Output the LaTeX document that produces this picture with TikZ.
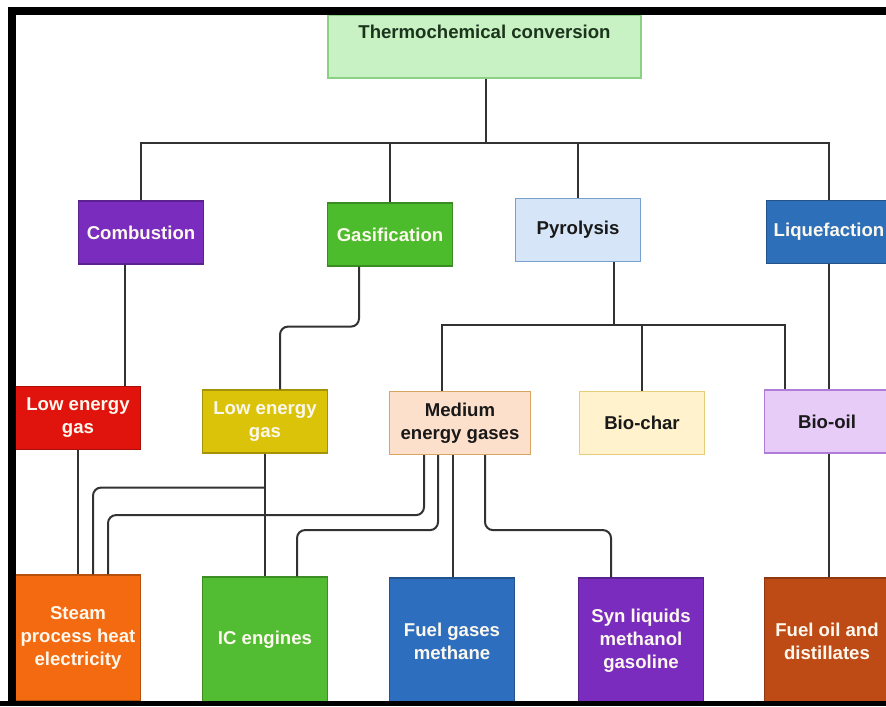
\documentclass[tikz,border=0pt]{standalone}
\usepackage{fontspec}
\setmainfont{Liberation Sans}
\usepackage{xcolor}
\definecolor{thermofill}{RGB}{200,242,196}
\definecolor{thermoline}{RGB}{140,208,132}
\definecolor{thermotext}{RGB}{28,52,28}
\definecolor{combpurple}{RGB}{122,44,190}
\definecolor{gasgreen}{RGB}{76,187,44}
\definecolor{pyrofill}{RGB}{214,230,248}
\definecolor{pyroline}{RGB}{120,160,205}
\definecolor{liqblue}{RGB}{46,111,186}
\definecolor{lowred}{RGB}{224,20,12}
\definecolor{lowyellow}{RGB}{219,195,10}
\definecolor{mediumfill}{RGB}{253,224,204}
\definecolor{mediumline}{RGB}{215,165,95}
\definecolor{charfill}{RGB}{255,242,204}
\definecolor{charline}{RGB}{232,205,120}
\definecolor{oilfill}{RGB}{230,204,246}
\definecolor{oilline}{RGB}{175,125,215}
\definecolor{steamorange}{RGB}{244,106,16}
\definecolor{icgreen}{RGB}{82,188,50}
\definecolor{fuelblue}{RGB}{45,111,190}
\definecolor{synpurple}{RGB}{122,44,190}
\definecolor{oilbrown}{RGB}{190,74,22}
\definecolor{lighttext}{RGB}{252,248,238}
\definecolor{darktext}{RGB}{25,25,25}
\definecolor{linegray}{RGB}{50,50,50}

\begin{document}
\begin{tikzpicture}[x=0.5pt, y=-0.5pt,
    box/.style={rectangle, draw, line width=0.6pt, align=center, font=\fontsize{9.3}{11.5}\selectfont\bfseries, minimum width=62.5pt, minimum height=31.5pt, inner sep=2pt},
    dark/.style={box, fill=#1, draw=#1!75!black, text=lighttext},
    pale/.style 2 args={box, fill=#1, draw=#2, text=darktext},
    tall/.style={minimum height=63pt},
    link/.style={line width=1pt, draw=linegray},
    curve/.style={link, rounded corners=4pt}
]
\clip (0,0) rectangle (886,706);
\fill[white] (0,0) rectangle (886,706);

\node[pale={thermofill}{thermoline}, text=thermotext, minimum width=156.5pt, text height=9pt, text depth=16.5pt, inner ysep=3pt] (thermo) at (484.5,46.5) {Thermochemical conversion};

\node[dark=combpurple] (comb) at (141,232.5) {Combustion};
\node[dark=gasgreen] (gasif) at (390,234.5) {Gasification};
\node[pale={pyrofill}{pyroline}] (pyro) at (578,230) {Pyrolysis};
\node[dark=liqblue] (lique) at (829,232) {Liquefaction};

\node[dark=lowred] (redgas) at (78,418) {Low energy\\gas};
\node[dark=lowyellow] (yelgas) at (265,421.5) {Low energy\\gas};
\node[pale={mediumfill}{mediumline}, minimum width=70.5pt] (medium) at (460,423) {Medium\\energy gases};
\node[pale={charfill}{charline}] (biochar) at (642,423) {Bio-char};
\node[pale={oilfill}{oilline}] (biooil) at (827,421.5) {Bio-oil};

\node[dark=steamorange, tall] (steam) at (78,638) {Steam\\process heat\\electricity};
\node[dark=icgreen, tall] (icen) at (265,640) {IC engines};
\node[dark=fuelblue, tall] (fuelgas) at (452,641) {Fuel gases\\methane};
\node[dark=synpurple, tall] (synliq) at (641,641) {Syn liquids\\methanol\\gasoline};
\node[dark=oilbrown, tall] (fueloil) at (827,641) {Fuel oil and\\distillates};

% tree from the top box
\coordinate (bus) at (486,143);
\draw[link] (thermo.south -| bus) -- (bus);
\draw[link] (comb.north) |- (bus) -| (lique.north);
\draw[link] (gasif.north) -- (gasif.north |- bus);
\draw[link] (pyro.north) -- (pyro.north |- bus);

% second row to third row
\draw[link] ([xshift=-8pt]comb.south) -- ([xshift=-8pt]comb.south |- redgas.north);
\draw[curve] ([xshift=-15.5pt]gasif.south) -- ++(0,60) -| ([xshift=7.5pt]yelgas.north);
\coordinate (pyrobus) at (614,325);
\draw[link] ([xshift=18pt]pyro.south) -- (pyrobus);
\draw[link] ([xshift=-9pt]medium.north) |- (pyrobus) -| ([xshift=-21pt]biooil.north);
\draw[link] (biochar.north) -- (biochar.north |- pyrobus);
\draw[link] (lique.south) -- (lique.south |- biooil.north);

% third row to products
\draw[link] (redgas) -- (steam);
\draw[link] (yelgas) -- (icen);
\draw[curve] ([yshift=-17pt]yelgas.south) -| ([xshift=7.5pt]steam.north);
\draw[curve] ([xshift=-18pt]medium.south) -- ++(0,60) -| ([xshift=15pt]steam.north);
\draw[curve] ([xshift=-11pt]medium.south) -- ++(0,75) -| ([xshift=16pt]icen.north);
\draw[link] ([xshift=-3.5pt]medium.south) -- ([xshift=-3.5pt]medium.south |- fuelgas.north);
\draw[curve] ([xshift=12.5pt]medium.south) -- ++(0,75) -| ([xshift=-15pt]synliq.north);
\draw[link] (biooil.south -| lique.south) -- (fueloil.north -| lique.south);

% black frame
\fill[black] (8,7) rectangle (886,15);
\fill[black] (8,7) rectangle (16,706);
\fill[black] (0,701) rectangle (886,706);
\end{tikzpicture}
\end{document}
